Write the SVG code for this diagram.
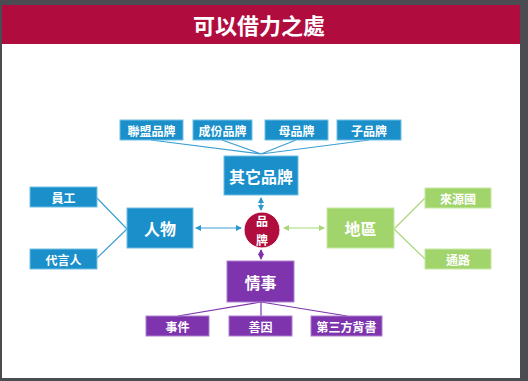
<svg xmlns="http://www.w3.org/2000/svg" width="528" height="381" viewBox="0 0 528 381">
<style>
text{font-family:"Noto Sans CJK TC","Noto Sans CJK SC",sans-serif;font-weight:bold;fill:#fff;text-anchor:middle;dominant-baseline:central}
.b{fill:#1a8fca;stroke:#6fbfe6;stroke-width:1}
.g{fill:#a2d46c;stroke:#c8e8a6;stroke-width:1}
.p{fill:#7d34ac;stroke:#b07fd0;stroke-width:1}
.big{font-size:16px}
.sm{font-size:12px}
.lb{stroke:#3a9fd3;stroke-width:1.2;fill:none}
.lg{stroke:#a8d678;stroke-width:1.2;fill:none}
.lp{stroke:#7d34ac;stroke-width:1.2;fill:none}
</style>
<defs>
<marker id="ab" viewBox="0 0 6 6" refX="5" refY="3" markerWidth="5" markerHeight="5" orient="auto-start-reverse"><path d="M0,0L6,3L0,6z" fill="#2a97cf"/></marker>
<marker id="ag" viewBox="0 0 6 6" refX="5" refY="3" markerWidth="5" markerHeight="5" orient="auto-start-reverse"><path d="M0,0L6,3L0,6z" fill="#a8d678"/></marker>
<marker id="ap" viewBox="0 0 6 6" refX="5" refY="3" markerWidth="5" markerHeight="5" orient="auto-start-reverse"><path d="M0,0L6,3L0,6z" fill="#7d34ac"/></marker>
</defs>
<rect x="0" y="0" width="528" height="381" fill="#4a4c52"/>
<rect x="2" y="5" width="518" height="373" fill="#ffffff"/>
<g id="header">
<rect x="2" y="5" width="518" height="39" fill="#b10c3e"/>
<text x="259" y="24" style="font-size:22px">可以借力之處</text>
</g>
<g id="connectors">
<path class="lb" d="M151,140L261,154M222,140L261,154M296,140L261,154M369,140L261,154"/>
<path class="lb" d="M97,198L127,229L97,258"/>
<path class="lg" d="M394,229L425,198M394,229L425,259"/>
<path class="lp" d="M261,302L178,316M261,302L261,316M261,302L347,316"/>
<line class="lb" x1="196" y1="228" x2="241" y2="228" marker-start="url(#ab)" marker-end="url(#ab)"/>
<line class="lg" x1="284" y1="228" x2="324" y2="228" marker-start="url(#ag)" marker-end="url(#ag)"/>
<line class="lb" x1="261" y1="198" x2="261" y2="210" marker-start="url(#ab)" marker-end="url(#ab)"/>
<line class="lp" x1="261" y1="250" x2="261" y2="259" marker-start="url(#ap)" marker-end="url(#ap)"/>
</g>
<g id="n-lianmeng"><rect class="b" x="120" y="120" width="63" height="20"/><text class="sm" x="151.5" y="130">聯盟品牌</text></g>
<g id="n-chengfen"><rect class="b" x="193" y="120" width="59" height="20"/><text class="sm" x="222.5" y="130">成份品牌</text></g>
<g id="n-mu"><rect class="b" x="265" y="120" width="63" height="20"/><text class="sm" x="296.5" y="130">母品牌</text></g>
<g id="n-zi"><rect class="b" x="337" y="120" width="64" height="20"/><text class="sm" x="369" y="130">子品牌</text></g>
<g id="n-qita"><rect class="b" x="224" y="156" width="74" height="39"/><text class="big" x="261" y="175.5">其它品牌</text></g>
<g id="n-yuangong"><rect class="b" x="30" y="187" width="67" height="20"/><text class="sm" x="63.5" y="197">員工</text></g>
<g id="n-daiyan"><rect class="b" x="30" y="249" width="67" height="20"/><text class="sm" x="63.5" y="259">代言人</text></g>
<g id="n-renwu"><rect class="b" x="127" y="208" width="66" height="40"/><text class="big" x="160" y="228">人物</text></g>
<g id="n-pinpai"><circle cx="262" cy="230" r="18" fill="#b10c3e" stroke="#ffffff" stroke-width="1"/><text x="262" y="220" style="font-size:12px">品</text><text x="262" y="239" style="font-size:12px">牌</text></g>
<g id="n-diqu"><rect class="g" x="327" y="208" width="67" height="40"/><text class="big" x="360.5" y="228">地區</text></g>
<g id="n-laiyuan"><rect class="g" x="425" y="188" width="66" height="20"/><text class="sm" x="458" y="198">來源國</text></g>
<g id="n-tonglu"><rect class="g" x="425" y="249" width="66" height="20"/><text class="sm" x="458" y="259">通路</text></g>
<g id="n-qingshi"><rect class="p" x="227" y="261" width="67" height="41"/><text class="big" x="260.5" y="281.5">情事</text></g>
<g id="n-shijian"><rect class="p" x="146" y="316" width="63" height="20"/><text class="sm" x="177.5" y="326">事件</text></g>
<g id="n-shanyin"><rect class="p" x="229" y="316" width="63" height="20"/><text class="sm" x="260.5" y="326">善因</text></g>
<g id="n-disanfang"><rect class="p" x="311" y="316" width="71" height="20"/><text class="sm" x="346.5" y="326">第三方背書</text></g>
</svg>
